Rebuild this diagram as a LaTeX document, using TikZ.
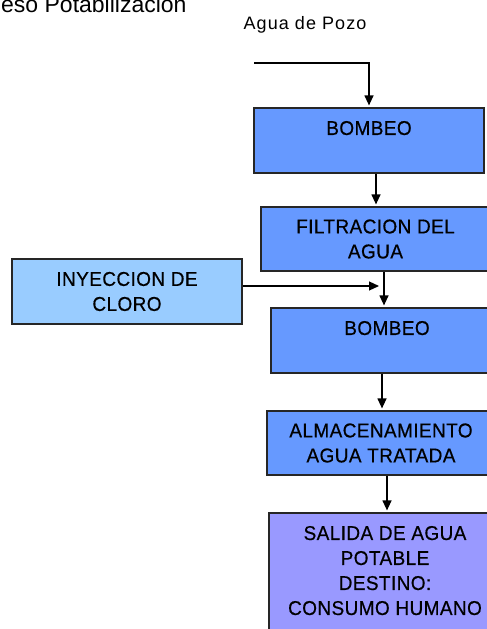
\documentclass[tikz,border=0pt]{standalone}
\usepackage{fontspec}
\setmainfont{Liberation Sans}
\newfontfamily\cajafont[LetterSpace=2,FakeStretch=0.95,FakeBold=0.5]{Liberation Sans}
\newfontfamily\rotulofont[LetterSpace=6]{Liberation Sans}
\usetikzlibrary{arrows.meta}
\definecolor{pasoazul}{HTML}{6699FF}
\definecolor{cloroazul}{HTML}{99CCFF}
\definecolor{salidalila}{HTML}{9999FF}

\begin{document}
\begin{tikzpicture}[x=1pt,y=-1pt,
    paso/.style={draw=black!85,line width=1.2pt,fill=pasoazul,inner sep=0pt,
      minimum height=64pt,align=center,font=\cajafont\fontsize{20}{25}\selectfont,
      execute at begin node={\rule{0pt}{24pt}}},
    flujo/.style={-{Triangle[length=10pt,width=9pt]},line width=1.2pt,shorten >=2pt}]
  \useasboundingbox (0,0) rectangle (487,629);
  \clip (0,0) rectangle (487,629);
  % title, cut by the page edge
  \node[anchor=base west,inner sep=0pt,font=\fontsize{23}{28}\selectfont] (titulo) at (1,12.5) {eso Potabilizacion};
  \node[anchor=base,inner sep=0pt,font=\rotulofont\fontsize{18}{22}\selectfont] (pozo) at (305,29) {Agua de Pozo};
  % process boxes
  \node[paso,minimum width=230pt,minimum height=65pt] (bombeo1) at (369,140.5) {BOMBEO\\\mbox{}};
  \node[paso,minimum width=229pt] (filtro) at (375.5,239) {FILTRACION DEL\\AGUA};
  \node[paso,fill=cloroazul,minimum width=230pt,minimum height=65pt] (cloro) at (127,291.5) {INYECCION DE\\CLORO};
  \node[paso,minimum width=232pt,minimum height=65pt] (bombeo2) at (387,340.5) {BOMBEO\\\mbox{}};
  \node[paso,minimum width=228pt] (tanque) at (381,443) {ALMACENAMIENTO\\AGUA TRATADA};
  \node[paso,fill=salidalila,minimum width=232pt,minimum height=124pt,
    execute at begin node={},execute at end node={\rule[-9pt]{0pt}{0pt}}] (salida) at (385,575) {SALIDA DE AGUA\\POTABLE\\DESTINO:\\CONSUMO HUMANO};
  % connectors
  \coordinate (entrada) at (254,63);
  \coordinate (mezcla) at (381,286);
  \draw[flujo] (entrada) -| (bombeo1.north);
  \draw[flujo] (376,0 |- bombeo1.south) -- (376,0 |- filtro.north);
  \draw[flujo] (384,0 |- filtro.south) -- (384,0 |- bombeo2.north);
  \draw[flujo] (cloro.east |- mezcla) -- (mezcla);
  \draw[flujo] (382,0 |- bombeo2.south) -- (382,0 |- tanque.north);
  \draw[flujo] (387,0 |- tanque.south) -- (387,0 |- salida.north);
\end{tikzpicture}
\end{document}
